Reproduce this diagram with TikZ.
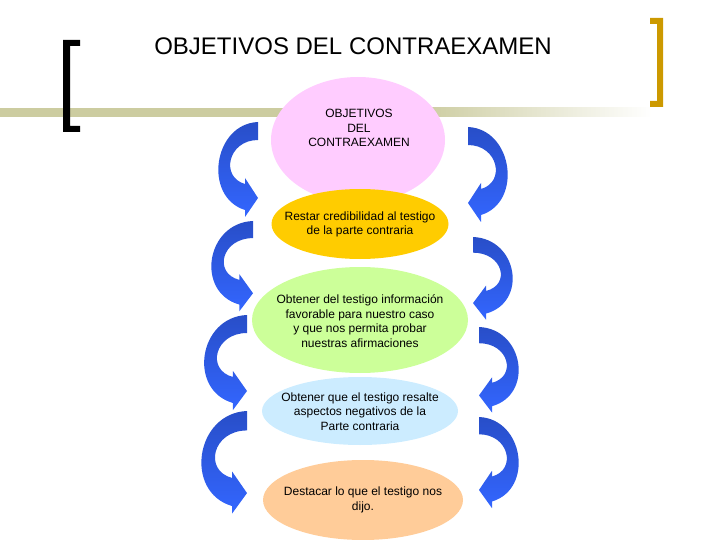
\documentclass[tikz,border=0pt]{standalone}
\usepackage{fontspec}
\setmainfont{Liberation Sans}
\usetikzlibrary{shapes.geometric}
\definecolor{khaki}{RGB}{204,204,160}
\definecolor{gold}{RGB}{204,153,0}
\definecolor{objpink}{RGB}{255,204,255}
\definecolor{restgold}{RGB}{255,204,0}
\definecolor{obtgreen}{RGB}{204,255,153}
\definecolor{resblue}{RGB}{204,236,255}
\definecolor{despeach}{RGB}{255,204,153}
\definecolor{arrowdark}{RGB}{40,78,200}
\definecolor{arrowlight}{RGB}{51,102,255}
\tikzstyle{oval}=[ellipse,draw=none,inner sep=0pt]
\tikzstyle{ovaltext}=[align=center,inner sep=0pt,font=\fontsize{12}{14.5}\selectfont]
\tikzstyle{titletext}=[inner sep=0pt,font=\fontsize{24}{28}\selectfont]
\tikzstyle{bluearrow}=[top color=arrowdark,bottom color=arrowlight,draw=none]
% curved block arrow: tail corner x, y, xscale, yscale
\newcommand{\bentarrow}[4]{%
  \shade[bluearrow,shift={(#1,#2)},xscale=#3,yscale=#4]
    (0,0) .. controls (-45,2) and (-55,75) .. (-13,88) -- (-13,95) -- (0,76)
    -- (-13,56) -- (-13,62) .. controls (-38,55) and (-30,18) .. (0,18) -- cycle;}

\begin{document}
\begin{tikzpicture}[x=1pt,y=-1pt]
\useasboundingbox (0,0) rectangle (720,540);
% bar and brackets
\fill[khaki] (0,108) rectangle (420,117);
\shade[left color=khaki,right color=white] (420,108) rectangle (652,117);
\fill[black] (63,40) rectangle (70,132) (63,40) rectangle (80,46) (63,126) rectangle (80,132);
\fill[gold] (657,18) rectangle (663,107) (650,18) rectangle (663,24) (650,101) rectangle (663,107);
\node[titletext] (title) at (353,46) {OBJETIVOS DEL CONTRAEXAMEN};
% ovals
\node[oval,fill=objpink,minimum width=174pt,minimum height=126pt] (obj) at (358,140) {};
\node[oval,fill=restgold,minimum width=177pt,minimum height=70pt] (restar) at (360,224) {};
\node[oval,fill=obtgreen,minimum width=216pt,minimum height=106pt] (obtener) at (360,320) {};
\node[oval,fill=resblue,minimum width=196pt,minimum height=68pt] (resalte) at (360,411) {};
\node[oval,fill=despeach,minimum width=200pt,minimum height=80pt] (destacar) at (363,500) {};
\node[ovaltext] (objtxt) at (359,128) {OBJETIVOS\\DEL\\CONTRAEXAMEN};
\node[ovaltext] (restartxt) at (360,224.5) {Restar credibilidad al testigo\\de la parte contraria};
\node[ovaltext] (obtenertxt) at (360,321) {Obtener del testigo información\\favorable para nuestro caso\\y que nos permita probar\\nuestras afirmaciones};
\node[ovaltext] (resaltetxt) at (360,411.5) {Obtener que el testigo resalte\\aspectos negativos de la\\Parte contraria};
\node[ovaltext] (destacartxt) at (363,500) {Destacar lo que el testigo nos\\dijo.};
% arrows left
\bentarrow{258}{122}{1}{1}
\bentarrow{253}{221}{1.05}{0.95}
\bentarrow{247}{315}{1.08}{1}
\bentarrow{247}{411}{1.15}{1.08}
% arrows right
\bentarrow{468}{127}{-1}{1}
\bentarrow{473}{237}{-1}{0.87}
\bentarrow{479}{327}{-1}{0.9}
\bentarrow{479}{417}{-1}{0.96}
\end{tikzpicture}
\end{document}
